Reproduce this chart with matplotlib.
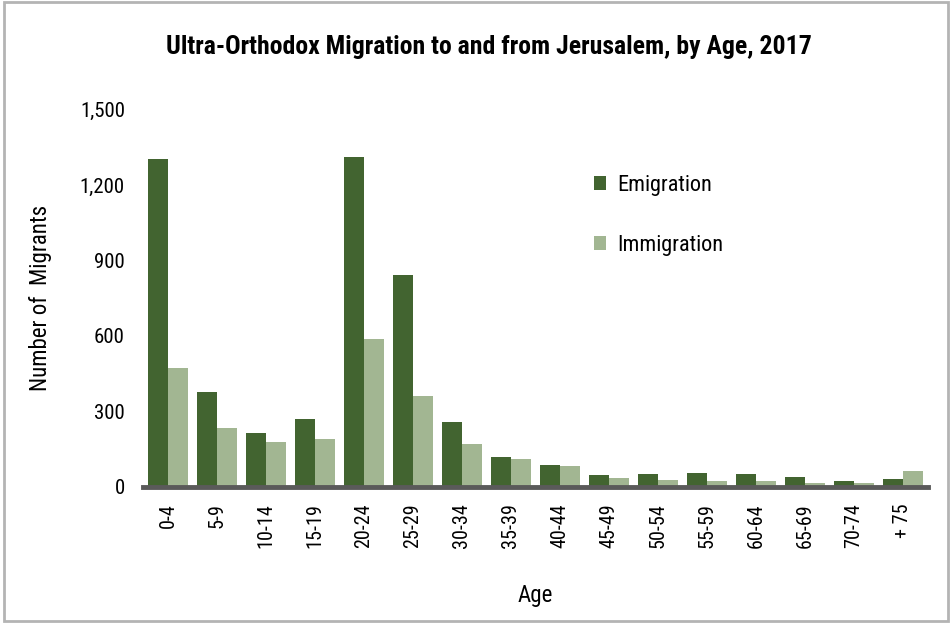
import numpy as np
import matplotlib
matplotlib.use('Agg')
import matplotlib.pyplot as plt
from matplotlib.patches import Rectangle

plt.rcParams['font.family'] = ['Roboto Condensed', 'DejaVu Sans']

ages = ['0-4', '5-9', '10-14', '15-19', '20-24', '25-29', '30-34', '35-39',
        '40-44', '45-49', '50-54', '55-59', '60-64', '65-69', '70-74', '+ 75']
emigration = [1305, 375, 212, 268, 1310, 840, 259, 119, 87, 48, 52, 56, 52, 40, 24, 32]
immigration = [472, 232, 176, 188, 588, 362, 171, 111, 83, 36, 28, 24, 24, 16, 16, 64]

dark_green = '#426430'
light_green = '#a2b692'

fig = plt.figure(figsize=(9.5, 6.23), dpi=100)
ax = fig.add_axes([0.1505, 0.2188, 0.8263, 0.6054])

x = np.arange(len(ages))
w = 0.4
ax.bar(x - w / 2, emigration, w, color=dark_green, label='Emigration')
ax.bar(x + w / 2, immigration, w, color=light_green, label='Immigration')

ax.set_xlim(-0.51, 15.51)
ax.set_ylim(0, 1500)
ax.set_yticks([0, 300, 600, 900, 1200, 1500])
ax.set_yticklabels(['0', '300', '600', '900', '1,200', '1,500'], fontsize=15)
ax.set_xticks(x)
ax.set_xticklabels(ages, rotation=90, fontsize=14.5)
ax.tick_params(axis='both', length=0)
ax.tick_params(axis='y', pad=13)
ax.tick_params(axis='x', pad=12)

for s in ['top', 'right', 'left']:
    ax.spines[s].set_visible(False)
ax.spines['bottom'].set_color('#5a5a5a')
ax.spines['bottom'].set_linewidth(3.5)

ax.set_xlabel('Age', fontsize=16.5, labelpad=26)
ax.set_ylabel('Number of  Migrants', fontsize=16.5, labelpad=20)

fig.text(0.515, 0.925, 'Ultra-Orthodox Migration to and from Jerusalem, by Age, 2017',
         ha='center', va='center', fontsize=18.5, fontweight='bold')

leg = ax.legend(loc='upper left', bbox_to_anchor=(0.549, 0.88), frameon=False,
                fontsize=16, handlelength=0.55, handleheight=0.55,
                labelspacing=1.75, handletextpad=0.5)

# light grey frame round the whole figure
fig.patches.append(Rectangle((0.004, 0.004), 0.994, 0.992, transform=fig.transFigure,
                             fill=False, edgecolor='#b4b4b4', linewidth=2))

fig.savefig('out.png', dpi=100)
